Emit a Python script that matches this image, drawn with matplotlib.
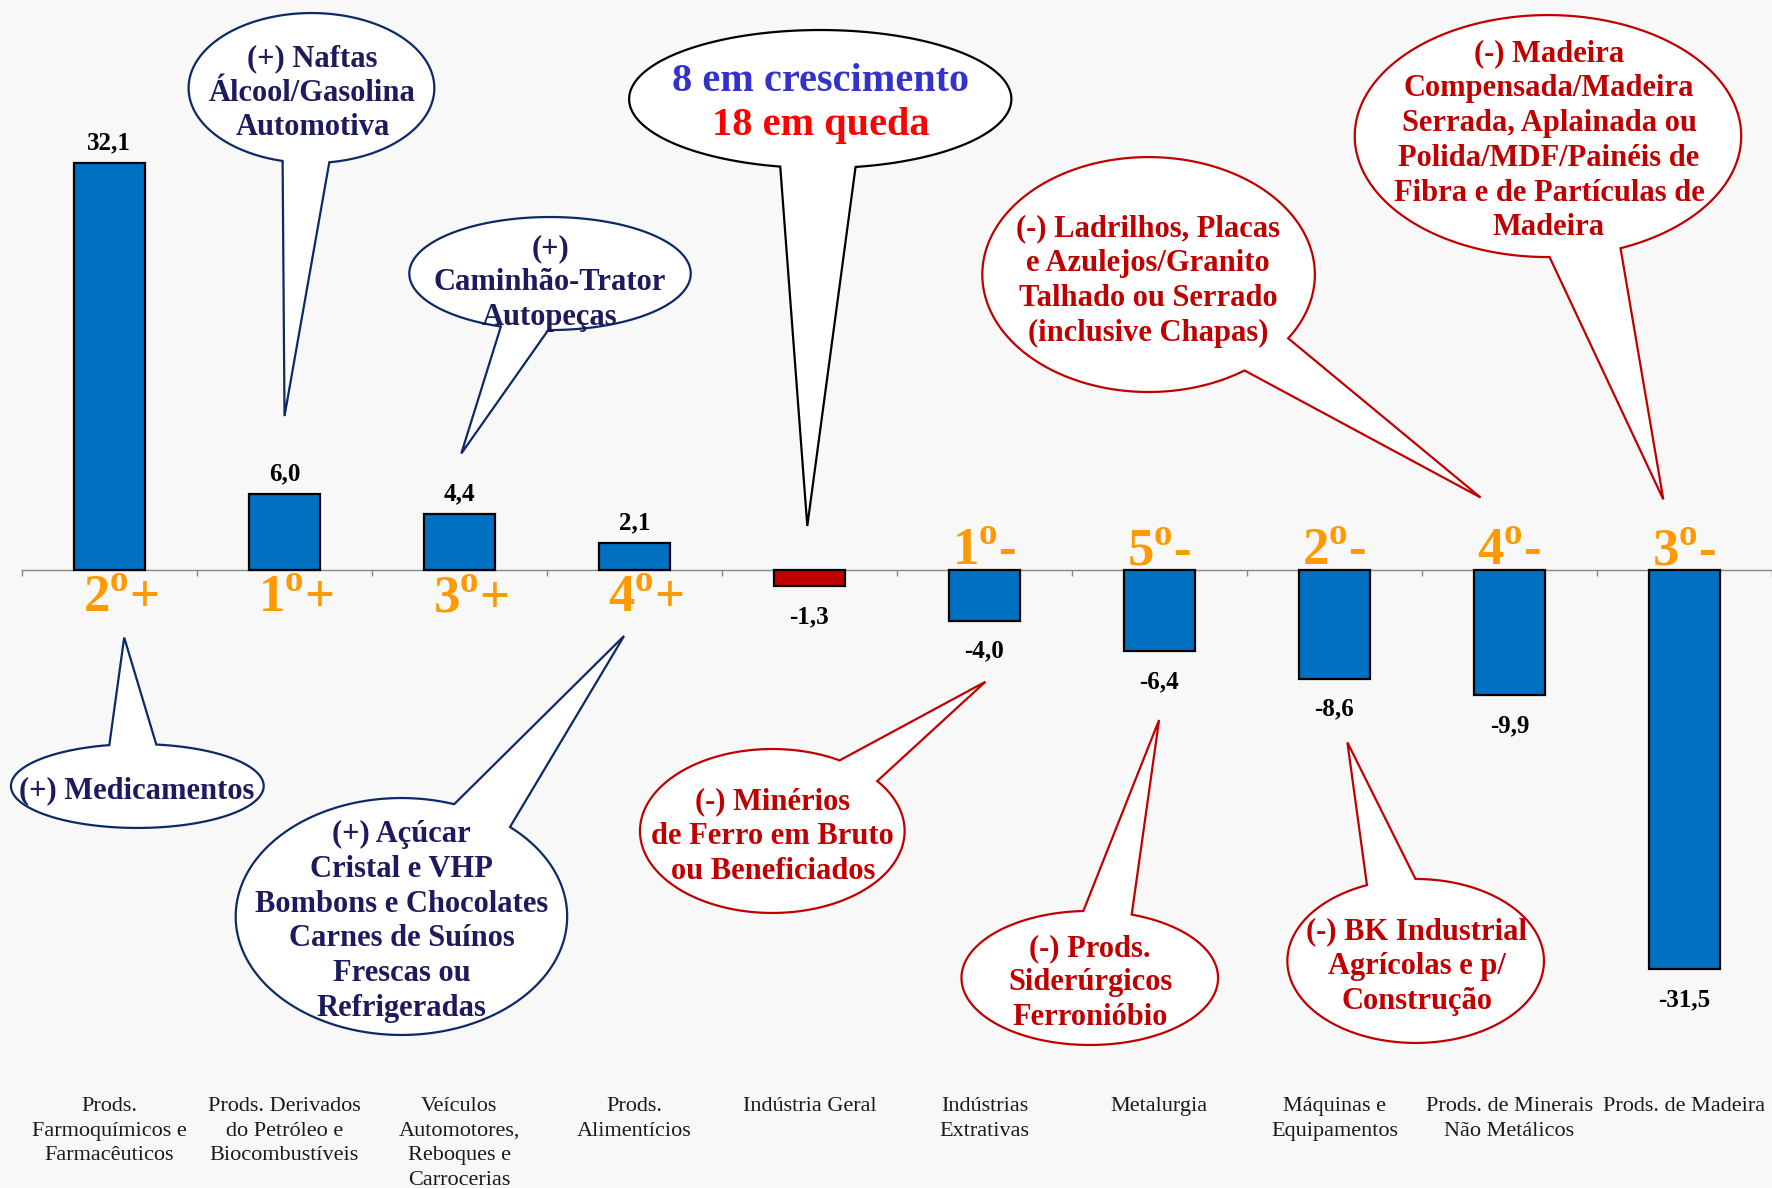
import numpy as np
import matplotlib
matplotlib.use("Agg")
import matplotlib.pyplot as plt
from matplotlib.patches import Polygon

categories = [
    "Prods.\nFarmoquímicos e\nFarmacêuticos",
    "Prods. Derivados\ndo Petróleo e\nBiocombustíveis",
    "Veículos\nAutomotores,\nReboques e\nCarrocerias",
    "Prods.\nAlimentícios",
    "Indústria Geral",
    "Indústrias\nExtrativas",
    "Metalurgia",
    "Máquinas e\nEquipamentos",
    "Prods. de Minerais\nNão Metálicos",
    "Prods. de Madeira",
]
values = [32.1, 6.0, 4.4, 2.1, -1.3, -4.0, -6.4, -8.6, -9.9, -31.5]
rank_num = ["2", "1", "3", "4", "", "1", "5", "2", "4", "3"]
bar_colors = ["#0070C0"] * 4 + ["#C00000"] + ["#0070C0"] * 5

NAVY_TXT = "#1b1b5e"
NAVY_EDGE = "#0b2a66"
RED = "#C00000"
ORANGE = "#FF9900"
BG = "#f8f8f8"

plt.rcParams["font.family"] = ["Liberation Serif", "DejaVu Serif"]
plt.rcParams["mathtext.fontset"] = "custom"
plt.rcParams["mathtext.rm"] = "Liberation Serif"
plt.rcParams["mathtext.bf"] = "Liberation Serif:bold"


def stack_text(ax, x, y, lines, colors, size, spacing, weight="bold", top=False):
    n = len(lines)
    for i, (line, c) in enumerate(zip(lines, colors)):
        off = -i * spacing if top else ((n - 1) / 2 - i) * spacing
        ax.annotate(line, (x, y), xytext=(0, off), textcoords="offset points",
                    ha="center", va="center_baseline", color=c, fontsize=size,
                    fontweight=weight, zorder=7)


def bubble(ax, center, a, b, base1, base2, tip, edge):
    cx, cy = center
    t1 = np.arctan2((base1[1] - cy) / b, (base1[0] - cx) / a)
    t2 = np.arctan2((base2[1] - cy) / b, (base2[0] - cx) / a)
    tt = np.arctan2((tip[1] - cy) / b, (tip[0] - cx) / a)
    d = sorted([(t1 - tt + np.pi) % (2 * np.pi) - np.pi,
                (t2 - tt + np.pi) % (2 * np.pi) - np.pi])
    th = np.linspace(tt + d[1], tt + d[0] + 2 * np.pi, 400)
    pts = np.column_stack([cx + a * np.cos(th), cy + b * np.sin(th)])
    pts = np.vstack([pts, tip])
    ax.add_patch(Polygon(pts, closed=True, fc="white", ec=edge, lw=1.6,
                         joinstyle="miter", zorder=6))


# callouts: center, half-width, half-height, tail base points, tail tip (data units)
bubbles = [
    dict(c=(1.155, 38.04), a=0.702, b=5.92, b1=(0.990, 32.28), b2=(1.258, 32.12), tip=(1.001, 12.15),
         t=(1.161, 37.92), lines=["(+) Naftas", "Álcool/Gasolina", "Automotiva"], col=NAVY_TXT, edge=NAVY_EDGE),
    dict(c=(2.518, 23.40), a=0.804, b=4.46, b1=(2.213, 18.86), b2=(2.507, 18.55), tip=(2.011, 9.19),
         t=(2.518, 22.93), lines=["(+)", "Caminhão-Trator", "Autopeças"], col=NAVY_TXT, edge=NAVY_EDGE),
    dict(c=(5.938, 23.32), a=0.950, b=9.27, b1=(6.740, 18.26), b2=(6.489, 15.71), tip=(7.835, 5.72),
         t=(5.935, 23.09), lines=["(-) Ladrilhos, Placas", "e Azulejos/Granito", "Talhado ou Serrado",
                                  "(inclusive Chapas)"], col=RED, edge=RED),
    dict(c=(8.220, 34.25), a=1.104, b=9.55, b1=(8.229, 24.78), b2=(8.634, 25.41), tip=(8.879, 5.57),
         t=(8.226, 34.14), lines=["(-) Madeira", "Compensada/Madeira", "Serrada, Aplainada ou",
                                  "Polida/MDF/Painéis de", "Fibra e de Partículas de", "Madeira"],
         col=RED, edge=RED),
    dict(c=(0.160, -17.05), a=0.722, b=3.31, b1=(-0.003, -13.76), b2=(0.271, -13.70), tip=(0.085, -5.33),
         t=(0.157, -17.17), lines=["(+) Medicamentos"], col=NAVY_TXT, edge=NAVY_EDGE),
    dict(c=(1.669, -27.35), a=0.947, b=9.35, b1=(1.971, -18.47), b2=(2.290, -20.28), tip=(2.941, -5.21),
         t=(1.669, -27.47), lines=["(+) Açúcar", "Cristal e VHP", "Bombons e Chocolates",
                                   "Carnes de Suínos", "Frescas ou", "Refrigeradas"],
         col=NAVY_TXT, edge=NAVY_EDGE),
    dict(c=(3.788, -20.60), a=0.756, b=6.47, b1=(4.172, -15.04), b2=(4.389, -16.65), tip=(5.006, -8.82),
         t=(3.791, -20.76), lines=["(-) Minérios", "de Ferro em Bruto", "ou Beneficiados"], col=RED, edge=RED),
    dict(c=(5.602, -32.20), a=0.733, b=5.29, b1=(5.565, -26.87), b2=(5.844, -27.15), tip=(5.998, -11.84),
         t=(5.605, -32.32), lines=["(-) Prods.", "Siderúrgicos", "Ferronióbio"], col=RED, edge=RED),
    dict(c=(7.464, -30.86), a=0.733, b=6.47, b1=(7.188, -24.92), b2=(7.463, -24.41), tip=(7.074, -13.61),
         t=(7.470, -31.05), lines=["(-) BK Industrial", "Agrícolas e p/", "Construção"], col=RED, edge=RED),
]

fig = plt.figure(figsize=(17.72, 11.88), dpi=100, facecolor=BG)
ax = fig.add_axes([0, 0, 1, 1], facecolor=BG)
x = np.arange(len(values))

ax.bar(x, values, width=0.405, color=bar_colors, edgecolor="black", linewidth=1.6, zorder=3)

for xi, v in zip(x, values):
    lab = f"{v:.1f}".replace(".", ",")
    off = 16.5 if v > 0 else -20
    ax.annotate(lab, (xi, v), xytext=(0, off), textcoords="offset points", ha="center",
                va="center_baseline", fontsize=18, fontweight="bold", color="black", zorder=4)

for xi, v, r in zip(x, values, rank_num):
    if not r:
        continue
    if v > 0:
        ax.text(xi + 0.065, -3.31, r"$\mathbf{%s}^{\mathbf{o}}$+" % r, ha="center", va="baseline",
                fontsize=38, fontweight="bold", color=ORANGE, zorder=4)
    else:
        ax.text(xi, 0.43, r"$\mathbf{%s}^{\mathbf{o}}$-" % r, ha="center", va="baseline",
                fontsize=38, fontweight="bold", color=ORANGE, zorder=4)

for xi, cat in zip(x, categories):
    lines = cat.split("\n")
    stack_text(ax, xi, -42.15, lines, ["#1a1a1a"] * len(lines), 16, 17.8, weight="normal", top=True)

for bb in bubbles:
    bubble(ax, bb["c"], bb["a"], bb["b"], bb["b1"], bb["b2"], bb["tip"], bb["edge"])
    stack_text(ax, bb["t"][0], bb["t"][1], bb["lines"], [bb["col"]] * len(bb["lines"]), 22, 25)

# summary callout
bubble(ax, (4.062, 37.17), 1.092, 5.45, (3.842, 32.04), (4.258, 31.97), (3.988, 3.47), "black")
stack_text(ax, 4.065, 37.21, ["8 em crescimento", "18 em queda"], ["#3333CC", "#FF0000"], 29, 31.7)

ax.set_xlim(-0.6246, 9.484)
ax.set_ylim(-48.78, 44.99)
for s in ["left", "right", "top"]:
    ax.spines[s].set_visible(False)
ax.spines["bottom"].set_position(("data", 0))
ax.spines["bottom"].set_bounds(-0.5, 9.5)
ax.spines["bottom"].set_color("#868686")
ax.spines["bottom"].set_linewidth(1.0)
ax.spines["bottom"].set_zorder(2)
ax.set_xticks(np.arange(-0.5, 10, 1))
ax.set_xticklabels([])
ax.tick_params(axis="x", direction="out", length=4.5, width=1, color="#868686")
ax.set_yticks([])

fig.savefig("out.png", dpi=100, facecolor=BG)
